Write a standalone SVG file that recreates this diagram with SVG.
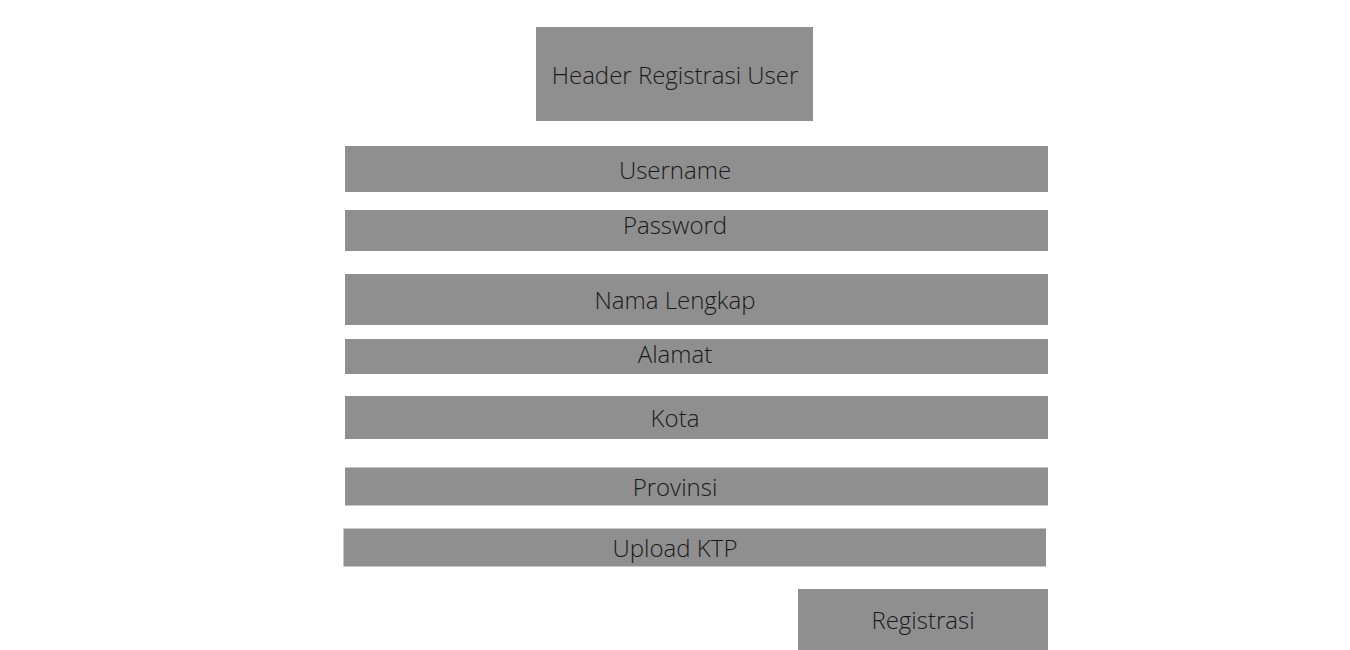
<svg xmlns="http://www.w3.org/2000/svg" width="1350" height="650" viewBox="0 0 1350 650">
<style>
.box{fill:#8f8f8f;}
.lbl{font-family:"Open Sans","Noto Sans",sans-serif;font-weight:300;font-size:24px;fill:#1a1a1a;text-anchor:middle;}
</style>
<rect width="1350" height="650" fill="#ffffff"/>
<g id="connectors"></g>
<g id="header"><rect class="box" x="536" y="27" width="277" height="94"/><text class="lbl" x="675" y="84">Header Registrasi User</text></g>
<g id="username"><rect class="box" x="345" y="146" width="703" height="46"/><text class="lbl" x="675" y="179">Username</text></g>
<g id="password"><rect class="box" x="345" y="210" width="703" height="41"/><text class="lbl" x="675" y="234">Password</text></g>
<g id="nama"><rect class="box" x="345" y="274" width="703" height="51"/><text class="lbl" x="675" y="309">Nama Lengkap</text></g>
<g id="alamat"><rect class="box" x="345" y="339" width="703" height="35"/><text class="lbl" x="675" y="363">Alamat</text></g>
<g id="kota"><rect class="box" x="345" y="396" width="703" height="43"/><text class="lbl" x="675" y="427">Kota</text></g>
<g id="provinsi"><rect class="box" x="345" y="467.5" width="703" height="38"/><text class="lbl" x="675" y="496">Provinsi</text></g>
<g id="upload"><rect class="box" x="343.5" y="528.5" width="702.5" height="38"/><text class="lbl" x="675" y="557">Upload KTP</text></g>
<g id="registrasi"><rect class="box" x="798" y="589" width="250" height="61"/><text class="lbl" x="923" y="629">Registrasi</text></g>
</svg>
